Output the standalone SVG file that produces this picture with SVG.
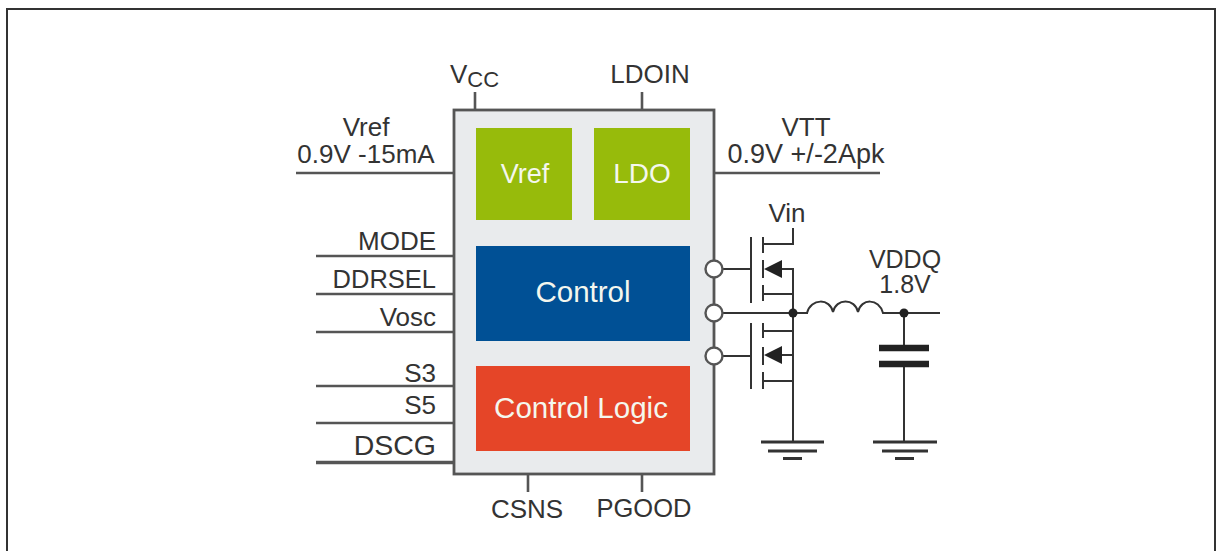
<svg xmlns="http://www.w3.org/2000/svg" width="1220" height="551" viewBox="0 0 1220 551">
<style>
text{font-family:"Liberation Sans",Arial,sans-serif;fill:#333;font-size:26px}
.w{fill:#f4f7ee;font-size:29.500px;text-anchor:middle}
.m{text-anchor:middle}.e{text-anchor:end}
.l{stroke:#555;stroke-width:2.600;fill:none}
.t{stroke:#333;stroke-width:2;fill:none}
.g{stroke:#333;stroke-width:3;fill:none}
.c{fill:#fff;stroke:#555;stroke-width:2.400}
</style>
<rect width="1220" height="551" fill="#fff"/>
<path d="M7 551V9H1215V551" fill="none" stroke="#333" stroke-width="2"/>
<g id="connectors">
<path class="l" d="M296 173H454M316 256H454M316 294H454M316 332H454M316 386H454M316 423H454M714 173H880M475 92V110M642 92V110M528 475V492M642 475V492"/>
<path d="M316 462.500H454" stroke="#555" stroke-width="3.500" fill="none"/>
<path class="t" d="M714 269H751M714 313H808M714 356H751M751 237V303M751 323V389M763 237V253M763 260V278M763 285V301M763 323V338M763 347V365M763 372V389M763 244H793V228M778 269H793V442M763 294H793M763 331H793M778 355H793M763 381H793"/>
<path class="t" d="M807 313C811 298 830 298 833 312C836 298 855 298 858 312C861 298 879 298 883 313H940M904 313V348M904 364V442"/>
<path class="g" d="M761 442H824M768 451H817M783 458.500H802M873 442H937M882 451H928M895 458.500H914"/>
<path d="M879 348H929M879 364H929" stroke="#222" stroke-width="6.500" fill="none"/>
<path d="M764 269L782 260V278ZM764 355L782 346V364Z" fill="#222"/>
<circle cx="793" cy="313" r="4.500" fill="#222"/><circle cx="904" cy="313" r="4.500" fill="#222"/>
</g>
<g id="chip"><rect x="454" y="110" width="260" height="364" fill="#e9ebed" stroke="#555" stroke-width="2.800"/></g>
<g id="vref"><rect x="476" y="128" width="96" height="92" fill="#97bb0b"/><text class="w" x="525" y="183" style="font-size:27px">Vref</text></g>
<g id="ldo"><rect x="594" y="128" width="96" height="92" fill="#97bb0b"/><text class="w" x="642" y="183" style="font-size:28px">LDO</text></g>
<g id="control"><rect x="476" y="246" width="214" height="95" fill="#005095"/><text class="w" x="583" y="302">Control</text></g>
<g id="logic"><rect x="476" y="366" width="214" height="85" fill="#e54528"/><text class="w" x="581" y="418">Control Logic</text></g>
<g id="pins"><circle class="c" cx="714" cy="269" r="8.500"/><circle class="c" cx="714" cy="313" r="8.500"/><circle class="c" cx="714" cy="356" r="8.500"/></g>
<g id="labels">
<text x="450" y="83">V<tspan dy="4" style="font-size:22px">CC</tspan></text>
<text class="m" x="650" y="83">LDOIN</text>
<text class="m"><tspan x="366" y="136">Vref</tspan><tspan x="366" y="163">0.9V -15mA</tspan></text>
<text class="m"><tspan x="806" y="136">VTT</tspan><tspan x="806" y="163" style="font-size:27px">0.9V +/-2Apk</tspan></text>
<text class="e" x="436" y="250">MODE</text>
<text class="e" x="436" y="288" style="font-size:25.500px">DDRSEL</text>
<text class="e" x="436" y="326">Vosc</text>
<text class="e" x="436" y="382">S3</text>
<text class="e" x="436" y="414">S5</text>
<text class="e" x="436" y="455" style="font-size:28.500px">DSCG</text>
<text class="m" x="527" y="518">CSNS</text>
<text class="m" x="644" y="517" style="font-size:25.500px">PGOOD</text>
<text class="m" x="787" y="222">Vin</text>
<text class="m" style="font-size:25px"><tspan x="905" y="268">VDDQ</tspan><tspan x="905" y="293">1.8V</tspan></text>
</g>
</svg>
